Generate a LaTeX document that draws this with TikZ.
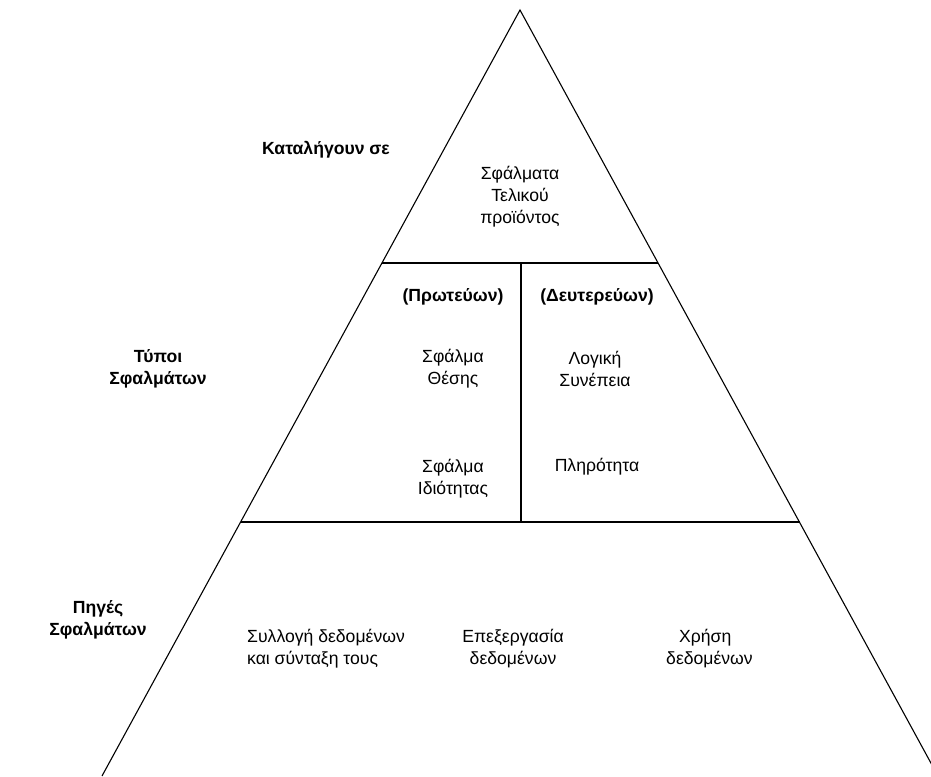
\documentclass[tikz,border=0pt]{standalone}
\usepackage{fontspec}
\setmainfont{Liberation Sans}
\begin{document}
\begin{tikzpicture}[x=1pt,y=-1pt,
  edge/.style={draw=black,line width=1.1pt},
  lbl/.style={font=\fontsize{17.6}{22}\selectfont,align=center,inner sep=0pt},
  head/.style={lbl,font=\fontsize{17.6}{22}\selectfont\bfseries}]
\useasboundingbox (0,0) rectangle (931,776);
\clip (0,0) rectangle (931,776);
% pyramid outline
\coordinate (apex) at (520,10);
\coordinate (bl) at (102,776);
\coordinate (br) at (938,776);
\coordinate (t1l) at (382.4,263);
\coordinate (t1r) at (658,263);
\coordinate (t2l) at (241,522);
\coordinate (t2r) at (800,522);
\coordinate (vtop) at (521,263);
\coordinate (vbot) at (521,522);
\draw[edge] (bl) -- (apex) -- (br);
\draw[edge] (t1l) -- (t1r);
\draw[edge] (t2l) -- (t2r);
\draw[edge] (vtop) -- (vbot);
% level headings
\node[head] (kat) at (326,150) {Καταλήγουν σε};
\node[head] (typ) at (158,369) {Τύποι\\Σφαλμάτων};
\node[head] (pig) at (98,620) {Πηγές\\Σφαλμάτων};
% top level
\node[lbl] (telik) at (520,197) {Σφάλματα\\Τελικού\\προϊόντος};
% middle level
\node[head] (prot) at (453,297) {(Πρωτεύων)};
\node[head] (deut) at (597,297) {(Δευτερεύων)};
\node[lbl] (thes) at (453,369) {Σφάλμα\\Θέσης};
\node[lbl] (logi) at (595,369) {Λογική\\Συνέπεια};
\node[lbl] (idio) at (453,479) {Σφάλμα\\Ιδιότητας};
\node[lbl] (plir) at (597,467) {Πληρότητα};
% bottom level
\node[lbl,align=left,anchor=west] (syll) at (247,649) {Συλλογή δεδομένων\\και σύνταξη τους};
\node[lbl] (epex) at (513,649) {Επεξεργασία\\δεδομένων};
\node[lbl,align=left,anchor=west] (xris) at (666,649) {\hspace*{13pt}Χρήση\\δεδομένων};
\end{tikzpicture}
\end{document}
